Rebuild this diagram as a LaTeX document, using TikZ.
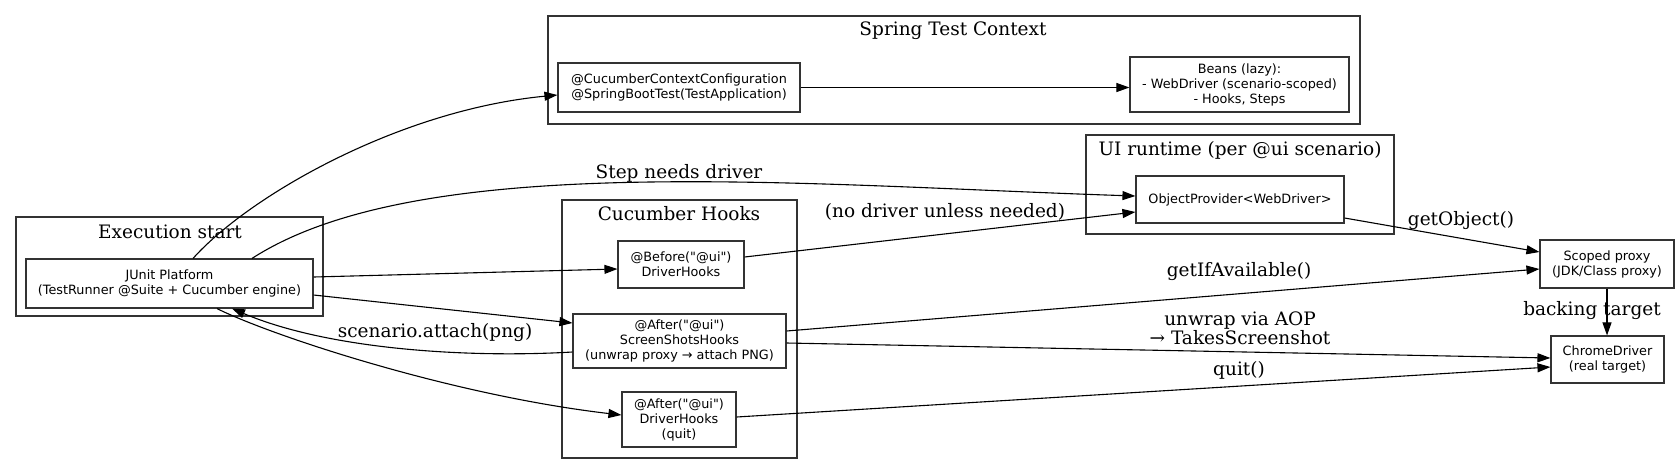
\documentclass[tikz,border=0pt]{standalone}
\usepackage{fontspec}
\newfontfamily\nodefont{DejaVu Sans}
\newfontfamily\lblfont{DejaVu Serif}
\usetikzlibrary{arrows.meta,calc}
\definecolor{border}{HTML}{333333}
\begin{document}
\begin{tikzpicture}[x=1pt,y=-1pt,
  box/.style={draw=border, line width=1.15pt, inner sep=0pt, align=center,
    font=\nodefont\fontsize{12.8}{15}\selectfont},
  cluster/.style={draw=border, line width=1.15pt, inner sep=0pt},
  title/.style={inner sep=0pt, font=\lblfont\fontsize{18.5}{19}\selectfont},
  lbl/.style={inner sep=0pt, align=center, font=\lblfont\fontsize{18.5}{19}\selectfont},
  edge/.style={draw, line width=1.1pt, -{Triangle[length=13pt,width=9pt]}}]
\useasboundingbox (0,0) rectangle (1680,475);
% clusters
\node[cluster, minimum width=307pt, minimum height=99pt] (execC) at (169.5,266.5) {};
\node[title] (execT) at (170,232) {Execution start};
\node[cluster, minimum width=812pt, minimum height=108pt] (springC) at (954,70) {};
\node[title] (springT) at (953,31) {Spring Test Context};
\node[cluster, minimum width=308pt, minimum height=99pt] (uiC) at (1240,184.5) {};
\node[title] (uiT) at (1240,150) {UI runtime (per @ui scenario)};
\node[cluster, minimum width=235pt, minimum height=258pt] (hooksC) at (679.5,329) {};
\node[title] (hooksT) at (679,214) {Cucumber Hooks};
% nodes
\node[box, minimum width=287pt, minimum height=49pt] (junit) at (169.5,283.5) {JUnit Platform\\(TestRunner @Suite + Cucumber engine)};
\node[box, minimum width=242pt, minimum height=49pt] (ccc) at (679,87.5) {@CucumberContextConfiguration\\@SpringBootTest(TestApplication)};
\node[box, minimum width=219pt, minimum height=55pt] (beans) at (1239.5,84.5) {Beans (lazy):\\- WebDriver (scenario-scoped)\\- Hooks, Steps};
\node[box, minimum width=208pt, minimum height=47pt] (objprov) at (1240,199.5) {ObjectProvider<WebDriver>};
\node[box, minimum width=126pt, minimum height=47pt] (before) at (681,264.5) {@Before("@ui")\\DriverHooks};
\node[box, minimum width=213pt, minimum height=54pt] (shots) at (679.5,341) {@After("@ui")\\ScreenShotsHooks\\(unwrap proxy → attach PNG)};
\node[box, minimum width=114pt, minimum height=55pt] (quit) at (679,419.5) {@After("@ui")\\DriverHooks\\(quit)};
\node[box, minimum width=134pt, minimum height=48pt] (proxy) at (1607,264) {Scoped proxy\\(JDK/Class proxy)};
\node[box, minimum width=113pt, minimum height=47pt] (chrome) at (1607.5,359.5) {ChromeDriver\\(real target)};
% edges
\draw[edge] ([xshift=23.5pt]junit.north) .. controls (250,195) and (400,110) .. ([yshift=-7.5pt]ccc.west);
\draw[edge] (ccc.east) -- (ccc.east -| beans.west);
\draw[edge] ([xshift=82.5pt]junit.north) .. controls (420,150) and (800,185) .. ([yshift=3.5pt]objprov.west);
\draw[edge] ([yshift=6.5pt]junit.east) -- ([yshift=-4.5pt]before.west);
\draw[edge] ([yshift=-11.5pt]junit.east) -- ([yshift=18pt]shots.west);
\draw[edge] ([xshift=47.5pt]junit.south) .. controls (270,335) and (450,395) .. ([yshift=4.5pt]quit.west);
\draw[edge] ([yshift=-11pt]shots.west) .. controls (470,358) and (330,350) .. ([xshift=62.5pt]junit.south);
\draw[edge] ([yshift=7.5pt]before.east) -- ([yshift=-12.5pt]objprov.west);
\draw[edge] ([yshift=-18.5pt]objprov.east) -- ([yshift=12pt]proxy.west);
\draw[edge] ([yshift=10pt]shots.east) -- ([yshift=-5pt]proxy.west);
\draw[edge] ([yshift=-2pt]shots.east) -- ([yshift=1.5pt]chrome.west);
\draw[edge] ([yshift=2.5pt]quit.east) -- ([yshift=-7.5pt]chrome.west);
\draw[edge] (proxy.south) -- (proxy.south |- chrome.north);
% edge labels
\node[lbl] (lStep) at (679,173) {Step needs driver};
\node[lbl] (lNo) at (945,212) {(no driver unless needed)};
\node[lbl] (lGetObj) at (1461,221) {getObject()};
\node[lbl] (lGetIf) at (1239,272) {getIfAvailable()};
\node[lbl] (lUnwrap) at (1240,328) {unwrap via AOP\\→ TakesScreenshot};
\node[lbl] (lQuit) at (1239,370) {quit()};
\node[lbl] (lAttach) at (435,333) {scenario.attach(png)};
\node[lbl] (lBack) at (1592,311) {backing target};
\end{tikzpicture}
\end{document}
